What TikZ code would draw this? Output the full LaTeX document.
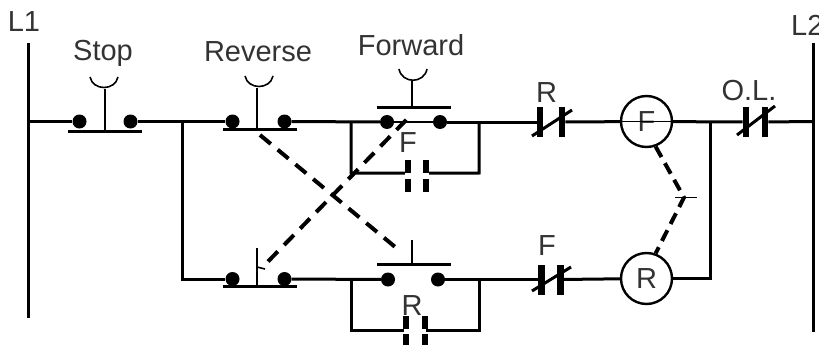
\documentclass[tikz,border=0pt]{standalone}
\usepackage{fontspec}
\setmainfont{Liberation Sans}
\tikzset{
  wire/.style={line width=3pt},
  rod/.style={line width=1.6pt},
  bar/.style={line width=3pt},
  link/.style={line width=4pt, dash pattern=on 14pt off 9pt},
  pinn/.style={circle, fill=black, inner sep=0pt, minimum size=14pt},
  plate/.style={rectangle, fill=black, inner sep=0pt, minimum width=6.5pt, minimum height=30pt},
  stub/.style={rectangle, fill=black, inner sep=0pt, minimum width=6pt, minimum height=13pt},
  coil/.style={circle, draw, line width=2.4pt, inner sep=0pt, minimum size=51pt, text=black!80, font=\fontsize{29}{30}\selectfont},
  lab/.style={anchor=base, inner sep=0pt, text=black!80, font=\fontsize{29}{30}\selectfont}
}
\begin{document}
\begin{tikzpicture}[x=1pt, y=-1pt]
        \useasboundingbox (0,0) rectangle (819,345);

        % Rails
        \node[lab] (labla) at (24,32) {L1};
        \node[lab, anchor=base west] (lablb) at (791,36) {L2};
        \coordinate (railatop) at (28,43);
        \coordinate (railabot) at (28,318);
        \coordinate (railbtop) at (813,43);
        \coordinate (railbbot) at (813,332);
        \coordinate (railarung) at (28,121.5);
        \coordinate (railbrung) at (813,121.5);
        \draw[wire] (railatop) -- (railabot);
        \draw[wire] (railbtop) -- (railbbot);

        % Stop button
        \node[lab] (labstop) at (103,61) {Stop};
        \node[pinn] (stopa) at (79.5,121.5) {};
        \node[pinn] (stopb) at (130.5,121.5) {};
        \coordinate (stopl) at (68,131);
        \coordinate (stopr) at (142,131);
        \coordinate (stopm) at (105,131);
        \coordinate (stopt) at (105,89);
        \draw[bar] (stopl) -- (stopr);
        \draw[rod] (stopm) -- (stopt);
        \draw[rod] (90,77) .. controls (93,91) and (115,91) .. (118,77);

        % Reverse button, top rung
        \node[lab] (labrev) at (258,62) {Reverse};
        \node[pinn] (reva) at (232.5,121.5) {};
        \node[pinn] (revb) at (284.5,121.5) {};
        \coordinate (revl) at (223,129);
        \coordinate (revr) at (297,129);
        \coordinate (revm) at (257,129);
        \coordinate (revt) at (257,88);
        \draw[bar] (revl) -- (revr);
        \draw[rod] (revm) -- (revt);
        \draw[rod] (245,76) .. controls (248,90) and (270,90) .. (273,76);

        % Forward button, top rung
        \node[lab] (labfwd) at (411,56) {Forward};
        \node[pinn] (fwda) at (387,122) {};
        \node[pinn] (fwdb) at (440,122) {};
        \coordinate (fwdl) at (377,107);
        \coordinate (fwdr) at (451,107);
        \coordinate (fwdm) at (412,107);
        \coordinate (fwdt) at (412,81);
        \draw[bar] (fwdl) -- (fwdr);
        \draw[rod] (fwdm) -- (fwdt);
        \draw[rod] (399,69) .. controls (402,84) and (424,84) .. (427,69);
        \draw[rod] (fwda) -- (fwdb);

        % F holding contact
        \node[lab] (labfa) at (408,152) {F};
        \node[stub] (holdfa) at (408,166.5) {};
        \node[stub] (holdfb) at (426,166.5) {};
        \node[stub] (holdfc) at (408,185) {};
        \node[stub] (holdfd) at (426,185) {};
        \coordinate (holdfl) at (351,173);
        \coordinate (holdfr) at (479,173);
        \coordinate (holdfla) at (351,121.5);
        \coordinate (holdfra) at (479,121.5);
        \draw[wire] (holdfla) -- (holdfl) -- (holdfa.south west);
        \draw[wire] (holdfra) -- (holdfr) -- (holdfb.south east);

        % R contact, top rung
        \node[lab] (labra) at (546.5,102) {R};
        \node[plate] (nora) at (540,122) {};
        \node[plate] (norb) at (562,122) {};
        \coordinate (norl) at (532,136);
        \coordinate (norr) at (572,110);
        \draw[wire] (norl) -- (norr);

        % F coil
        \node[coil] (coilf) at (646.5,121.5) {F};
        \draw[rod] (coilf.west) -- (coilf.east);
        \coordinate (jointr) at (710,121.5);

        % O.L. contact
        \node[lab] (labol) at (749,100) {O.L.};
        \node[plate] (ola) at (746,122) {};
        \node[plate] (olb) at (765,122) {};
        \coordinate (oll) at (737,135);
        \coordinate (olr) at (775,106);
        \draw[wire] (oll) -- (olr);

        % Top rung
        \draw[wire] (railarung) -- (stopa);
        \draw[wire] (stopb) -- (reva);
        \draw[wire] (revb) -- (fwda);
        \draw[wire] (fwdb) -- (nora);
        \draw[wire] (norb) -- (coilf);
        \draw[wire] (coilf) -- (ola);
        \draw[wire] (olb) -- (railbrung);

        % Reverse button, bottom rung
        \node[pinn] (lowa) at (232.5,279) {};
        \node[pinn] (lowb) at (284.5,279) {};
        \coordinate (lowl) at (223,286);
        \coordinate (lowr) at (297,286);
        \coordinate (lowm) at (257,286);
        \coordinate (lowt) at (257,248);
        \coordinate (lowk) at (265,269);
        \coordinate (lowj) at (257,267);
        \draw[bar] (lowl) -- (lowr);
        \draw[rod] (lowm) -- (lowt);
        \draw[rod] (lowj) -- (lowk);

        % Forward button, bottom rung
        \node[pinn] (bota) at (388,279.5) {};
        \node[pinn] (botb) at (438,279.5) {};
        \coordinate (botl) at (377,264);
        \coordinate (botr) at (451,264);
        \coordinate (botm) at (412,264);
        \coordinate (bott) at (412,240);
        \draw[bar] (botl) -- (botr);
        \draw[rod] (botm) -- (bott);

        % R holding contact
        \node[lab] (labrb) at (412,315) {R};
        \node[stub] (holdra) at (405.5,322) {};
        \node[stub] (holdrb) at (424.5,322) {};
        \node[stub] (holdrc) at (405.5,340) {};
        \node[stub] (holdrd) at (424.5,340) {};
        \coordinate (holdrl) at (351,330);
        \coordinate (holdrr) at (479,330);
        \coordinate (holdrm) at (404,330);
        \coordinate (holdrn) at (426,330);
        \coordinate (holdrla) at (351,278.5);
        \coordinate (holdrra) at (479,278.5);
        \draw[wire] (holdrla) -- (holdrl) -- (holdrm);
        \draw[wire] (holdrra) -- (holdrr) -- (holdrn);

        % F contact, bottom rung
        \node[lab] (labfb) at (547,255) {F};
        \node[plate] (nofa) at (541.5,279.5) {};
        \node[plate] (nofb) at (560.5,279.5) {};
        \coordinate (nofl) at (532,291);
        \coordinate (nofr) at (571,267);
        \draw[wire] (nofl) -- (nofr);

        % R coil
        \node[coil] (coilr) at (646.5,278.5) {R};

        % Bottom rung
        \coordinate (jointl) at (182,121.5);
        \draw[wire] (jointl) |- (lowa);
        \draw[wire] (lowb) -- (bota);
        \draw[wire] (botb) -- (nofa);
        \draw[wire] (nofb) -- (coilr);
        \draw[wire] (jointr) |- (coilr.east);

        % Mechanical links
        \coordinate (linka) at (260,135);
        \coordinate (linkb) at (400,251);
        \coordinate (linkc) at (268,261.5);
        \coordinate (linkd) at (412,114);
        \draw[link] (linka) -- (linkb);
        \draw[link] (linkc) -- (linkd);
        \coordinate (coilj) at (684,197.5);
        \coordinate (coilja) at (675,197.5);
        \coordinate (coiljb) at (697,197.5);
        \draw[link, dash pattern=on 12pt off 7pt] (coilf.-70) -- (coilj) -- (coilr.70);
        \draw[rod] (coilja) -- (coiljb);
\end{tikzpicture}
\end{document}
